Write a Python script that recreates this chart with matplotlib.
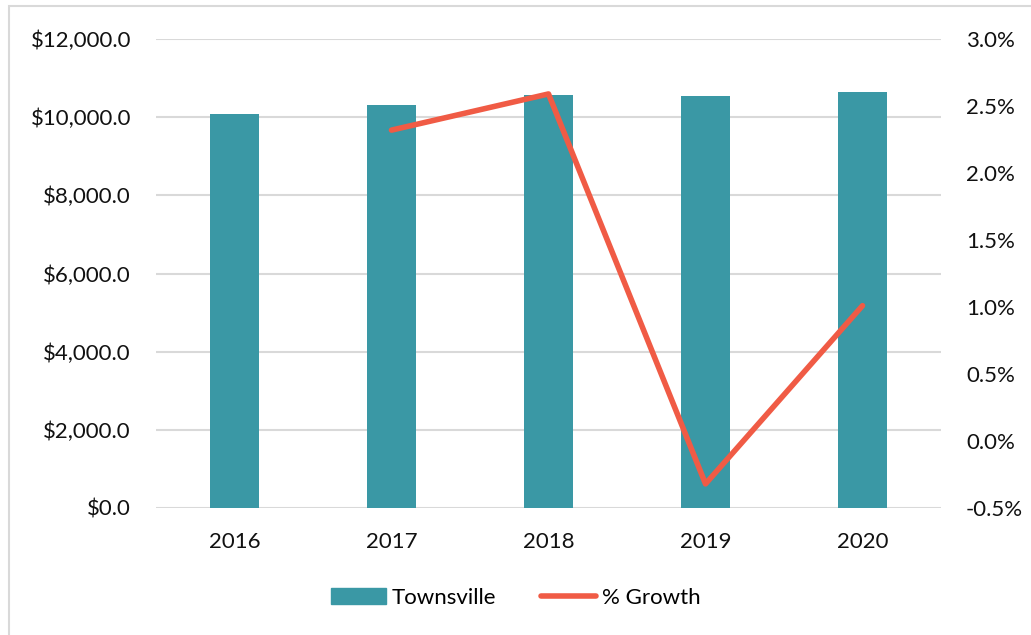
import matplotlib.pyplot as plt
from matplotlib.patches import Rectangle
from matplotlib.lines import Line2D
from matplotlib.ticker import FuncFormatter, MultipleLocator

plt.rcParams['font.family'] = ['Lato', 'DejaVu Sans']

years = ["2016", "2017", "2018", "2019", "2020"]
townsville = [10080, 10310, 10565, 10540, 10645]
growth_years = ["2017", "2018", "2019", "2020"]
growth = [2.32, 2.59, -0.32, 1.01]

bar_color = "#3A98A5"
line_color = "#F05B45"
grid_color = "#D9D9D9"

fig = plt.figure(figsize=(10.31, 6.35), dpi=100)
ax = fig.add_axes([156 / 1031, 1 - 508 / 635, (941 - 156) / 1031, (508 - 39) / 635])

x = list(range(len(years)))
ax.bar(x, townsville, width=0.31, color=bar_color, zorder=2)
ax.set_xlim(-0.5, len(years) - 0.5)
ax.set_ylim(0, 12000)
ax.yaxis.set_major_locator(MultipleLocator(2000))
ax.yaxis.set_major_formatter(FuncFormatter(lambda v, p: f"${v:,.1f}"))
ax.set_xticks(x)
ax.set_xticklabels(years)
ax.grid(axis="y", color=grid_color, linewidth=1.5, zorder=0)
for s in ax.spines.values():
    s.set_visible(False)
ax.tick_params(length=0, labelsize=16, colors="#111111")
ax.tick_params(axis="y", pad=18)
ax.tick_params(axis="x", pad=17)

ax2 = ax.twinx()
gx = [years.index(y) for y in growth_years]
ax2.plot(gx, growth, color=line_color, linewidth=4, solid_capstyle="round", zorder=3)
ax2.set_ylim(-0.5, 3.0)
ax2.yaxis.set_major_locator(MultipleLocator(0.5))
ax2.yaxis.set_major_formatter(FuncFormatter(lambda v, p: f"{v:.1f}%"))
for s in ax2.spines.values():
    s.set_visible(False)
ax2.tick_params(length=0, labelsize=16, colors="#111111", pad=18)

handles = [Rectangle((0, 0), 1, 1, color=bar_color),
           Line2D([0], [0], color=line_color, linewidth=4, solid_capstyle="round")]
fig.legend(handles, ["Townsville", "% Growth"], loc="center", bbox_to_anchor=(0.5, 1 - 598 / 635),
           ncol=2, frameon=False, fontsize=16, handlelength=2.5, handletextpad=0.25, columnspacing=2.0)

# outer chart border
fig.add_artist(Rectangle((9 / 1031, -0.1), 1.1, 1.1 - 6 / 635, transform=fig.transFigure,
                         fill=False, edgecolor=grid_color, linewidth=1.5))

fig.savefig("out.png", dpi=100)
